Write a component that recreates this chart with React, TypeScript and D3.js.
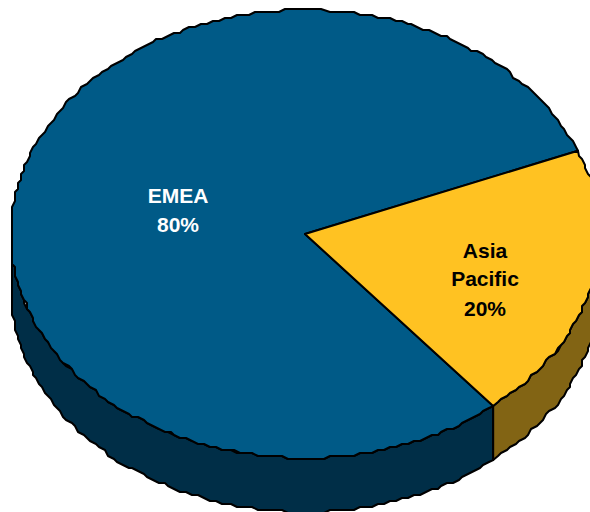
import React from "react";
import * as d3 from "d3";

// Revenue share by region
const regions = ["EMEA", "Asia Pacific"];
const shares = [80, 20];
const labelLines = [["EMEA", "80%"], ["Asia", "Pacific", "20%"]];
const topColors = ["#005a87", "#ffc222"];
const wallColors = ["#002e47", "#826414"];
const labelColors = ["#ffffff", "#000000"];

const WIDTH = 590;
const HEIGHT = 512;
const CX = 305;
const CY = 234;
const RX = 294;
const RY = 224;
const DEPTH = 54;
const GRID = 3;
const FIRST_ANGLE = (140.2 * Math.PI) / 180;
const STEP = (1.2 * Math.PI) / 180;

const xScale = d3.scaleLinear().domain([-1, 1]).range([CX - RX, CX + RX]);
const yScale = d3.scaleLinear().domain([-1, 1]).range([CY - RY, CY + RY]);

const pie = d3
  .pie<number>()
  .sort(null)
  .startAngle(FIRST_ANGLE)
  .endAngle(FIRST_ANGLE + 2 * Math.PI);

// The rim is stored on a coarse device grid, which gives it its stepped edge.
const snap = (v: number) => Math.round(v / GRID) * GRID;

const rimPoint = (angle: number, drop = 0): [number, number] => [
  snap(xScale(Math.sin(angle))),
  snap(yScale(-Math.cos(angle))) + drop,
];

function arcPoints(a0: number, a1: number, drop = 0): [number, number][] {
  const count = Math.max(1, Math.round((a1 - a0) / STEP));
  return d3.range(count + 1).map((i) => rimPoint(a0 + ((a1 - a0) * i) / count, drop));
}

const exact = (angle: number): [number, number] => [
  xScale(Math.sin(angle)),
  yScale(-Math.cos(angle)),
];

const line = d3.line();

export default function App() {
  const arcs = pie(shares);

  // Only the part of each slice facing the viewer (90 to 270 degrees) shows a wall.
  const front0 = Math.PI / 2;
  const front1 = (3 * Math.PI) / 2;
  const walls = arcs.map((a, i) => {
    const segments: [number, number][] = [];
    const ranges: [number, number][] = [
      [a.startAngle, a.endAngle],
      [a.startAngle - 2 * Math.PI, a.endAngle - 2 * Math.PI],
    ];
    for (const [s, e] of ranges) {
      const lo = Math.max(s, front0);
      const hi = Math.min(e, front1);
      if (hi > lo) {
        const upper = arcPoints(lo, hi);
        const lower = arcPoints(lo, hi, DEPTH);
        // Walls that meet at a slice boundary share one exact vertical edge.
        if (Math.abs(lo - s) < 1e-9) {
          const edge = exact(s);
          upper[0] = edge;
          lower[0] = [edge[0], edge[1] + DEPTH];
        }
        if (Math.abs(hi - e) < 1e-9) {
          const edge = exact(e);
          upper[upper.length - 1] = edge;
          lower[lower.length - 1] = [edge[0], edge[1] + DEPTH];
        }
        segments.push(...upper, ...lower.reverse());
      }
    }
    return { d: line(segments) + "Z", fill: wallColors[i], key: regions[i] };
  });

  const tops = arcs.map((a, i) => {
    const rim = arcPoints(a.startAngle, a.endAngle);
    rim[0] = exact(a.startAngle);
    rim[rim.length - 1] = exact(a.endAngle);
    const pts: [number, number][] = [[CX, CY], ...rim];
    return { d: line(pts) + "Z", fill: topColors[i], key: regions[i] };
  });

  const labelX = [178, 485];
  const labelY = [[203, 232], [258, 286, 316]];

  return (
    <svg
      width={WIDTH}
      height={HEIGHT}
      viewBox={`0 0 ${WIDTH} ${HEIGHT}`}
      style={{ position: "absolute", left: 0, top: 0, display: "block" }}
    >
      <rect width={WIDTH} height={HEIGHT} fill="#ffffff" />
      {walls.map((w) => (
        <path key={w.key} d={w.d} fill={w.fill} stroke="#000" strokeWidth={2} strokeLinejoin="round" />
      ))}
      {tops.map((t) => (
        <path key={t.key} d={t.d} fill={t.fill} stroke="#000" strokeWidth={2} strokeLinejoin="round" />
      ))}
      {labelLines.map((lines, i) => (
        <g key={regions[i]}>
          {lines.map((txt, j) => (
            <text
              key={txt}
              x={labelX[i]}
              y={labelY[i][j]}
              textAnchor="middle"
              fontFamily="'Liberation Sans', Arial, sans-serif"
              fontWeight={700}
              fontSize={21}
              fill={labelColors[i]}
            >
              {txt}
            </text>
          ))}
        </g>
      ))}
    </svg>
  );
}
